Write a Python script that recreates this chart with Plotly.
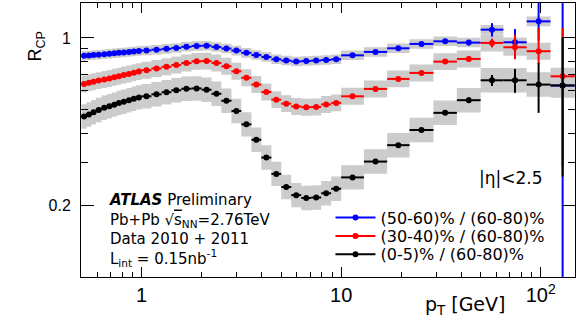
import numpy as np
import plotly.graph_objects as go

# pT bin edges [GeV]
pt_edges = [0.5, 0.53, 0.56, 0.59, 0.63, 0.67, 0.71, 0.75, 0.79, 0.84, 0.89, 0.94,
            1.0, 1.12, 1.26, 1.41, 1.58, 1.78, 2.0, 2.24, 2.51, 2.82, 3.16, 3.55,
            3.98, 4.47, 5.01, 5.62, 6.31, 7.08, 7.94, 8.91,
            10.0, 13.0, 17.0, 22.0, 29.0, 38.0, 50.0, 65.0, 85.0, 112.0, 148.0]

# R_CP values per bin
rcp_50_60 = [0.842, 0.845, 0.848, 0.851, 0.855, 0.858, 0.862, 0.866, 0.869, 0.873, 0.877, 0.881,
             0.886, 0.893, 0.900, 0.908, 0.918, 0.926, 0.928, 0.916, 0.903, 0.885, 0.866, 0.848,
             0.832, 0.814, 0.804, 0.797, 0.800, 0.804, 0.809, 0.814,
             0.846, 0.874, 0.905, 0.944, 0.968, 0.956, 1.083, 0.959, 1.173, 0.632]
rcp_30_40 = [0.642, 0.649, 0.656, 0.663, 0.670, 0.677, 0.685, 0.692, 0.700, 0.707, 0.715, 0.723,
             0.733, 0.745, 0.757, 0.770, 0.785, 0.798, 0.800, 0.786, 0.761, 0.725, 0.681, 0.638,
             0.594, 0.552, 0.531, 0.517, 0.513, 0.514, 0.527, 0.535,
             0.570, 0.612, 0.674, 0.714, 0.796, 0.817, 0.953, 0.914, 0.880, 0.691]
rcp_0_5 = [0.469, 0.478, 0.489, 0.500, 0.510, 0.518, 0.526, 0.534, 0.541, 0.549, 0.557, 0.564,
           0.570, 0.581, 0.593, 0.604, 0.613, 0.615, 0.607, 0.584, 0.546, 0.495, 0.435, 0.375,
           0.316, 0.270, 0.238, 0.220, 0.214, 0.215, 0.224, 0.234,
           0.261, 0.304, 0.356, 0.412, 0.486, 0.549, 0.665, 0.665, 0.638, 0.633]

# statistical errors for the pT > 10 GeV bins (below that they hide under the markers)
stat_up_50_60 = [0.008, 0.010, 0.012, 0.015, 0.020, 0.025, 0.070, 0.130, 0.500, 1.000]
stat_dn_50_60 = [0.008, 0.010, 0.012, 0.015, 0.020, 0.025, 0.070, 0.060, 0.200, 0.550]
stat_up_30_40 = [0.006, 0.008, 0.010, 0.012, 0.015, 0.020, 0.040, 0.120, 0.220, 0.410]
stat_dn_30_40 = [0.006, 0.008, 0.010, 0.012, 0.015, 0.020, 0.040, 0.100, 0.100, 0.400]
stat_up_0_5 = [0.004, 0.005, 0.006, 0.008, 0.010, 0.015, 0.035, 0.077, 0.148, 0.370]
stat_dn_0_5 = [0.004, 0.005, 0.006, 0.008, 0.010, 0.015, 0.035, 0.076, 0.152, 0.370]

# relative systematic uncertainty (grey boxes)
syst_50_60 = 0.047
syst_30_40 = 0.085
syst_0_5 = 0.125

labels = ['(50-60)% / (60-80)%', '(30-40)% / (60-80)%', '(0-5)% / (60-80)%']
colors = ['#0000ff', '#ff0000', '#000000']
box_color = '#cccccc'


def pad_errors(err, n):
    return [0.0] * (n - len(err)) + list(err)


def syst_boxes(y, syst):
    lo = np.array(pt_edges[:-1])
    hi = np.array(pt_edges[1:])
    xs, ys = [], []
    for x0, x1, v in zip(lo, hi, y):
        y0, y1 = v / (1 + syst), v * (1 + syst)
        xs += [x0, x1, x1, x0, x0, None]
        ys += [y0, y0, y1, y1, y0, None]
    return go.Scatter(x=xs, y=ys, mode='lines', fill='toself', fillcolor=box_color,
                      line=dict(width=0), hoverinfo='skip', showlegend=False)


def data_points(y, up, dn, color):
    lo = np.array(pt_edges[:-1])
    hi = np.array(pt_edges[1:])
    xc = np.sqrt(lo * hi)
    n = len(y)
    return go.Scatter(
        x=xc, y=y, mode='markers',
        marker=dict(color=color, size=6),
        error_x=dict(type='data', symmetric=False, array=hi - xc, arrayminus=xc - lo,
                     color=color, thickness=2, width=0),
        error_y=dict(type='data', symmetric=False, array=pad_errors(up, n),
                     arrayminus=pad_errors(dn, n), color=color, thickness=2, width=0),
        showlegend=False)


def main():
    series = [(rcp_50_60, stat_up_50_60, stat_dn_50_60, syst_50_60),
              (rcp_30_40, stat_up_30_40, stat_dn_30_40, syst_30_40),
              (rcp_0_5, stat_up_0_5, stat_dn_0_5, syst_0_5)]

    fig = go.Figure()
    for y, up, dn, syst in series:
        fig.add_trace(syst_boxes(y, syst))
    for (y, up, dn, syst), color in zip(series, colors):
        fig.add_trace(data_points(y, up, dn, color))

    # one legend per entry so the rows can sit as tight as in the original
    legend_names = ['legend', 'legend2', 'legend3']
    legend_y = [0.2164, 0.1496, 0.0828]
    legend_font = dict(family='DejaVu Sans', size=16, color='black')
    for label, color, lg in zip(labels, colors, legend_names):
        fig.add_trace(go.Scatter(x=[None], y=[None], mode='lines+markers', name=label,
                                 line=dict(color=color, width=2),
                                 marker=dict(color=color, size=6), legend=lg))
    for lg, ly in zip(legend_names, legend_y):
        fig.update_layout({lg: dict(x=0.505, y=ly, xanchor='left', yanchor='middle',
                                    bgcolor='rgba(0,0,0,0)', itemwidth=40, font=legend_font)})

    x_minor = [0.6, 0.7, 0.8, 0.9, 2, 3, 4, 5, 6, 7, 8, 9, 20, 30, 40, 50, 60, 70, 80, 90]
    y_minor = [0.3, 0.4, 0.5, 0.6, 0.7, 0.8, 0.9]

    fig.update_xaxes(
        type='log', range=[np.log10(0.497), np.log10(148.5)], automargin=False,
        tickvals=[1, 10, 100], ticktext=['1', '10', '10<sup>2</sup>'],
        ticks='inside', ticklen=10, tickcolor='black', tickwidth=1,
        minor=dict(ticks='inside', ticklen=5, tickvals=x_minor, tickcolor='black', showgrid=False),
        showline=True, linecolor='black', linewidth=1, mirror='allticks',
        showgrid=False, zeroline=False,
        tickfont=dict(family='Liberation Sans', size=20, color='black'))
    fig.update_yaxes(
        type='log', range=[-1, np.log10(1.4)], automargin=False,
        tickvals=[0.2, 1], ticktext=['0.2', '1'],
        ticks='inside', ticklen=13, tickcolor='black', tickwidth=1,
        minor=dict(ticks='inside', ticklen=7, tickvals=y_minor, tickcolor='black', showgrid=False),
        showline=True, linecolor='black', linewidth=1, mirror='allticks',
        showgrid=False, zeroline=False, ticklabelstandoff=6,
        tickfont=dict(family='Liberation Sans', size=16, color='black'))

    text_font = dict(family='DejaVu Sans', size=15, color='black')
    fig.update_layout(
        width=581, height=326,
        margin=dict(l=81, r=6, t=3, b=49),
        plot_bgcolor='white', paper_bgcolor='white',
        annotations=[
            dict(xref='paper', yref='paper', x=0.052, y=0.32, xanchor='left', yanchor='top',
                 align='left', showarrow=False, font=text_font,
                 text='<b><i>ATLAS</i></b> Preliminary<br>'
                      'Pb+Pb √<span style="text-decoration:overline">s</span><sub>NN</sub>=2.76TeV<br>'
                      'Data 2010 + 2011<br>'
                      'L<sub>int</sub> = 0.15nb<sup>-1</sup>'),
            dict(xref='paper', yref='paper', x=0.801, y=0.36, xanchor='left', yanchor='middle',
                 showarrow=False, text='|η|<2.5',
                 font=dict(family='DejaVu Sans', size=17, color='black')),
            dict(xref='paper', yref='paper', x=0.862, y=-0.05, xanchor='right', yanchor='top',
                 showarrow=False, text='p<sub>T</sub> [GeV]',
                 font=dict(family='DejaVu Sans', size=19, color='black')),
            # y title at the top end of the axis, as ROOT puts it
            dict(xref='paper', yref='paper', x=-0.089, y=0.841, xanchor='center', yanchor='middle',
                 showarrow=False, text='R<sub>CP</sub>', textangle=-90,
                 font=dict(family='Liberation Sans', size=18, color='black')),
        ])

    # the page's default 8px body margin would shift the whole figure
    fig.write_html('out.html', config={'displayModeBar': False},
                   post_script="document.body.style.margin='0';")


if __name__ == '__main__':
    main()
